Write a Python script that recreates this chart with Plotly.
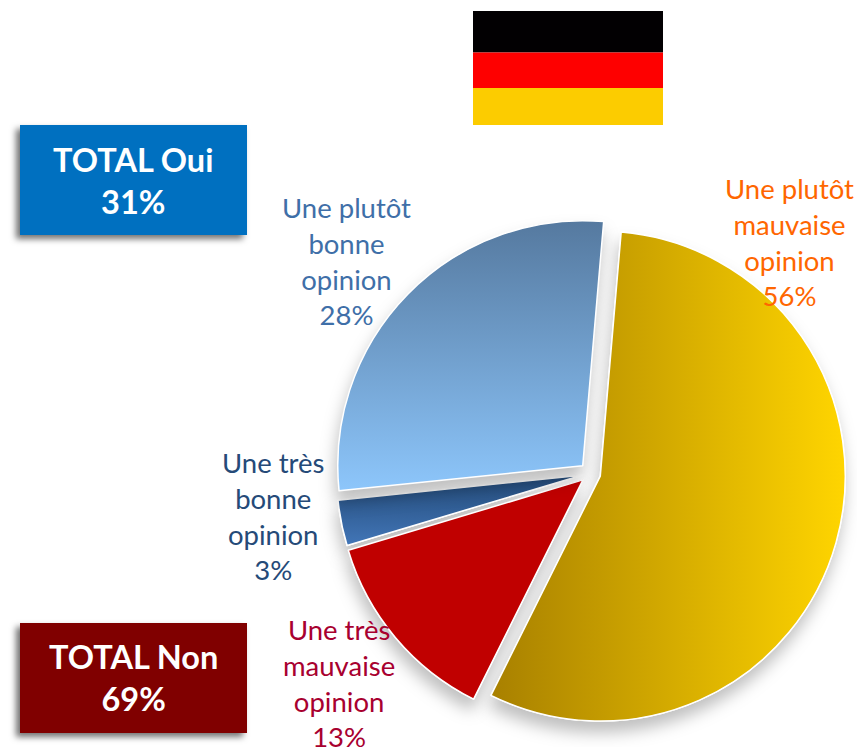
import plotly.graph_objects as go

W, H = 857, 747

categories = ["Une plutôt<br>mauvaise<br>opinion", "Une très<br>mauvaise<br>opinion",
              "Une très<br>bonne<br>opinion", "Une plutôt<br>bonne<br>opinion"]
values = [56, 13, 3, 28]
pulls = [0.041, 0.041, 0.037, 0.045]
slice_colors = ["#E0B400", "#C00000", "#32629A", "#6FA3D8"]
label_colors = ["#FF6600", "#A8002F", "#254A78", "#3F6FA8"]
label_centers = [(789, 241.5), (339, 683), (273, 515.5), (346, 260.5)]
totals = [("TOTAL Oui", 31), ("TOTAL Non", 69)]
total_colors = ["#0070C0", "#800000"]
flag_colors = ["#020002", "#FE0000", "#FCCC00"]


def px(x):
    return x / W


def py(y):
    return 1 - y / H


cx, cy, half = 590.6, 473.4, 256.0

fig = go.Figure(go.Pie(
    values=values,
    labels=categories,
    sort=False,
    direction="clockwise",
    rotation=4.9,
    pull=pulls,
    textinfo="none",
    hoverinfo="skip",
    showlegend=False,
    marker=dict(colors=slice_colors, line=dict(color="#FFFFFF", width=1.5)),
    domain=dict(x=[px(cx - half), px(cx + half)], y=[py(cy + half), py(cy - half)]),
))

shapes = []
flag_bands = [(11, 52.5), (52.5, 88), (88, 125)]
for color, (y0, y1) in zip(flag_colors, flag_bands):
    shapes.append(dict(type="rect", xref="paper", yref="paper", x0=px(473), x1=px(663),
                       y0=py(y1), y1=py(y0), fillcolor=color, line_width=0, layer="below"))
for color, (y0, y1) in zip(total_colors, [(125, 235), (623, 733)]):
    shapes.append(dict(type="rect", xref="paper", yref="paper", x0=px(20), x1=px(247),
                       y0=py(y1), y1=py(y0), fillcolor=color, line_width=0, layer="below"))

annotations = []
for cat, val, col, (x, y) in zip(categories, values, label_colors, label_centers):
    annotations.append(dict(text=f"{cat}<br>{val}%", xref="paper", yref="paper", x=px(x), y=py(y),
                            xanchor="center", yanchor="middle", showarrow=False,
                            font=dict(family="Lato", size=27.5, color=col)))
for (name, val), y in zip(totals, [180, 677.5]):
    annotations.append(dict(text=f"<b>{name}<br>{val}%</b>", xref="paper", yref="paper", x=px(133), y=py(y),
                            xanchor="center", yanchor="middle", showarrow=False,
                            font=dict(family="Lato", size=32.5, color="#FFFFFF")))

fig.update_layout(width=W, height=H, margin=dict(l=0, r=0, t=0, b=0),
                  paper_bgcolor="#FFFFFF", plot_bgcolor="#FFFFFF",
                  shapes=shapes, annotations=annotations)

post = """
document.body.style.margin = '0';
var gd = document.getElementById('{plot_id}');
var svg = gd.querySelector('svg.main-svg');
var ns = 'http://www.w3.org/2000/svg';
var defs = document.createElementNS(ns, 'defs');
function grad(id, x2, y2, a, b) {
  var g = document.createElementNS(ns, 'linearGradient');
  g.setAttribute('id', id);
  g.setAttribute('x1', '0'); g.setAttribute('y1', '0');
  g.setAttribute('x2', x2); g.setAttribute('y2', y2);
  [[0, a], [1, b]].forEach(function (s) {
    var st = document.createElementNS(ns, 'stop');
    st.setAttribute('offset', s[0]);
    st.setAttribute('stop-color', s[1]);
    g.appendChild(st);
  });
  defs.appendChild(g);
}
grad('gYellow', '1', '0', '#A88000', '#FFD500');
grad('gDark', '0', '1', '#234A78', '#4276B8');
grad('gLight', '0', '1', '#55799F', '#8DC6FB');
svg.insertBefore(defs, svg.firstChild);
var fills = ['url(#gYellow)', null, 'url(#gDark)', 'url(#gLight)'];
var slices = Array.prototype.slice.call(gd.querySelectorAll('.pielayer .slice'));
var shadow = 'drop-shadow(-2px 11px 8px rgba(0,0,0,0.25))';
slices.forEach(function (s, i) {
  var p = s.querySelector('path.surface');
  if (fills[i]) p.style.fill = fills[i];
  if (i === 3) { p.style.filter = shadow; return; }
  var c = s.cloneNode(true);
  c.setAttribute('class', 'slice-shadow');
  c.querySelector('path').style.filter = shadow;
  slices[0].parentNode.insertBefore(c, slices[0]);
});
var rects = gd.querySelectorAll('.shapelayer path');
for (var i = rects.length - 2; i < rects.length; i++) {
  rects[i].style.filter = 'drop-shadow(-4px 4px 3px rgba(0,0,0,0.55))';
}
"""

fig.write_html("out.html", post_script=post, config=dict(displayModeBar=False))
